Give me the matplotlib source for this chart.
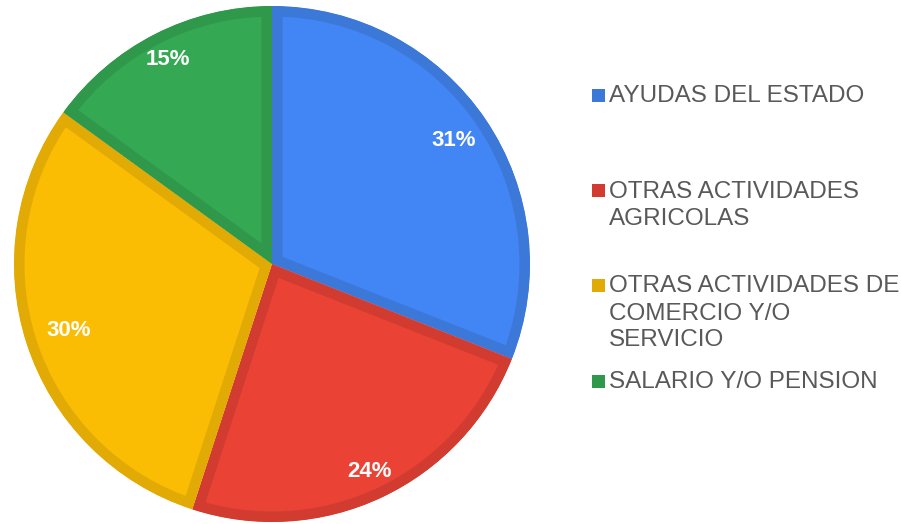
import matplotlib
matplotlib.use("Agg")
import matplotlib.pyplot as plt
from matplotlib.patches import Wedge
import numpy as np

categories = ["AYUDAS DEL ESTADO",
              "OTRAS ACTIVIDADES\nAGRICOLAS",
              "OTRAS ACTIVIDADES DE\nCOMERCIO Y/O\nSERVICIO",
              "SALARIO Y/O PENSION"]
values = [31, 24, 30, 15]

fill_colors = ["#4285F4", "#EA4335", "#FBBC04", "#34A853"]
edge_colors = ["#3C78D8", "#D13B30", "#E2AA04", "#2F984B"]
label_dist = [0.85, 0.89, 0.83, 0.89]

plt.rcParams['font.family'] = ['Liberation Sans', 'DejaVu Sans']

W, H = 901, 524
fig = plt.figure(figsize=(W / 100, H / 100), dpi=100)
fig.patch.set_facecolor("white")

cx, cy, R = 272, 264, 258
lim = 1.01
Ra = R * lim
ax = fig.add_axes([(cx - Ra) / W, (H - cy - Ra) / H, 2 * Ra / W, 2 * Ra / H])

wedges, _ = ax.pie(values, colors=fill_colors, startangle=90, counterclock=False,
                   radius=1, center=(0, 0), frame=False)
ax.set_xlim(-lim, lim)
ax.set_ylim(-lim, lim)
ax.set_aspect("equal")
ax.axis("off")

stroke_px = 10.5
for w, ec in zip(wedges, edge_colors):
    clip = Wedge((0, 0), 1, w.theta1, w.theta2, transform=ax.transData)
    w.set_edgecolor(ec)
    w.set_linewidth(2 * stroke_px * 0.72)
    w.set_joinstyle("miter")
    w.set_clip_on(True)
    w.set_clip_path(clip)

total = sum(values)
for w, v, d in zip(wedges, values, label_dist):
    ang = np.deg2rad((w.theta1 + w.theta2) / 2)
    ax.text(d * np.cos(ang), d * np.sin(ang), f"{round(100 * v / total)}%",
            ha="center", va="center", color="white", fontsize=16, fontweight="bold")

# legend
legend_y = [95, 190.5, 285, 381]
sq = 13
line_gap = 27
for lab, ec, y in zip(categories, edge_colors, legend_y):
    fig.patches.append(plt.Rectangle((592 / W, (H - y - sq / 2) / H), sq / W, sq / H,
                                     transform=fig.transFigure, facecolor=ec,
                                     edgecolor="none"))
    for i, line in enumerate(lab.split("\n")):
        fig.text(609 / W, (H - (y + 7.5 + i * line_gap)) / H, line, ha="left",
                 va="baseline", fontsize=17.5, color="#595959")

fig.savefig("out.png", dpi=100, facecolor="white")
